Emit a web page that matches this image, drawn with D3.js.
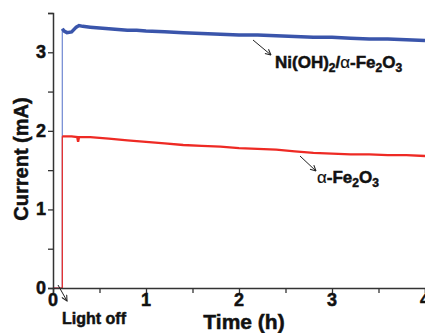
<!DOCTYPE html>
<html>
<head>
<meta charset="utf-8">
<script src="https://cdn.jsdelivr.net/npm/d3@7"></script>
<style>
  body { margin: 0; background: #fff; }
  text { font-family: "Liberation Sans", Arial, sans-serif; font-weight: bold; fill: #111; stroke: #111; stroke-width: 0.5px; }
</style>
</head>
<body>
<script>
// Ni(OH)2/α-Fe2O3 photocurrent (mA) vs time (h)
const niTime    = [0, 0.1, 0.1, 0.12, 0.15, 0.2, 0.25, 0.28, 0.32, 0.4, 0.5, 0.6, 0.7, 0.8, 0.9, 1.0, 1.2, 1.4, 1.6, 1.8, 2.0, 2.2, 2.4, 2.6, 2.8, 3.0, 3.2, 3.4, 3.6, 3.8, 4.0];
const niCurrent = [0, 0, 3.30, 3.27, 3.25, 3.26, 3.32, 3.34, 3.33, 3.32, 3.31, 3.30, 3.29, 3.28, 3.28, 3.27, 3.26, 3.25, 3.24, 3.23, 3.22, 3.22, 3.21, 3.20, 3.19, 3.19, 3.18, 3.17, 3.17, 3.16, 3.15];

// α-Fe2O3 photocurrent
const feTime    = [0, 0.1, 0.1, 0.2, 0.26, 0.27, 0.28, 0.4, 0.6, 0.8, 1.0, 1.2, 1.4, 1.6, 1.8, 2.0, 2.2, 2.4, 2.6, 2.8, 3.0, 3.2, 3.4, 3.6, 3.8, 4.0];
const feCurrent = [0, 0, 1.93, 1.93, 1.92, 1.86, 1.92, 1.92, 1.90, 1.88, 1.86, 1.84, 1.82, 1.81, 1.80, 1.78, 1.77, 1.76, 1.74, 1.72, 1.71, 1.70, 1.70, 1.69, 1.69, 1.68];

const xTicks = [0, 1, 2, 3, 4];
const yTicks = [0, 1, 2, 3];

const width = 425, height = 333;
const svg = d3.select("body").append("svg")
  .attr("width", width)
  .attr("height", height);

const x = d3.scaleLinear().domain([0, 4]).range([53, 425]);
const y = d3.scaleLinear().domain([0, 3.5]).range([288, 13]);

const line = d3.line()
  .x(d => x(d[0]))
  .y(d => y(d[1]));

const ni = d3.zip(niTime, niCurrent);
const fe = d3.zip(feTime, feCurrent);

// switch-on transient (first 3 points) thin, steady trace thick
svg.append("path")
  .datum(ni.slice(0, 3))
  .attr("fill", "none")
  .attr("stroke", "#6f88d2")
  .attr("stroke-width", 1.2)
  .attr("d", line);

svg.append("path")
  .datum(ni.slice(2))
  .attr("fill", "none")
  .attr("stroke", "#3a55ab")
  .attr("stroke-width", 3.5)
  .attr("d", line);

svg.append("path")
  .datum(fe.slice(0, 3))
  .attr("fill", "none")
  .attr("stroke", "#ee2a24")
  .attr("stroke-width", 1.2)
  .attr("d", line);

svg.append("path")
  .datum(fe.slice(2))
  .attr("fill", "none")
  .attr("stroke", "#ee2a24")
  .attr("stroke-width", 2.3)
  .attr("d", line);

// axes
const axisColor = "#333";
const xAxis = svg.append("g")
  .attr("transform", `translate(0,${y(0)})`)
  .call(d3.axisBottom(x).tickValues(d3.range(0, 4.01, 0.5)).tickSize(5).tickFormat(""));
const yAxis = svg.append("g")
  .attr("transform", `translate(${x(0)},0)`)
  .call(d3.axisLeft(y).tickValues(d3.range(0, 3.51, 0.5)).tickSize(5).tickFormat(""));
[xAxis, yAxis].forEach(g => {
  g.select(".domain").attr("stroke", axisColor).attr("stroke-width", 1.5);
  g.selectAll(".tick line").attr("stroke", axisColor).attr("stroke-width", 1.3);
});

svg.selectAll(".xlab")
  .data(xTicks)
  .join("text")
  .attr("x", d => x(d))
  .attr("y", 306)
  .attr("text-anchor", "middle")
  .attr("font-size", 18)
  .text(d => d);

svg.selectAll(".ylab")
  .data(yTicks)
  .join("text")
  .attr("x", 46)
  .attr("y", d => y(d) + 6)
  .attr("text-anchor", "end")
  .attr("font-size", 18)
  .text(d => d);

// axis titles
svg.append("text")
  .attr("transform", "translate(28,159) rotate(-90)")
  .attr("text-anchor", "middle")
  .attr("font-size", 20)
  .text("Current (mA)");

svg.append("text")
  .attr("x", 244)
  .attr("y", 329)
  .attr("text-anchor", "middle")
  .attr("font-size", 21)
  .text("Time (h)");

svg.append("text")
  .attr("x", 62)
  .attr("y", 324)
  .attr("font-size", 16)
  .text("Light off");

// arrows
const defs = svg.append("defs");
defs.append("marker")
  .attr("id", "head")
  .attr("viewBox", "0 0 10 10")
  .attr("refX", 9).attr("refY", 5)
  .attr("markerWidth", 7).attr("markerHeight", 7)
  .attr("orient", "auto")
  .append("path")
  .attr("d", "M1,1 L9,5 L1,9")
  .attr("fill", "none")
  .attr("stroke", "#222")
  .attr("stroke-width", 1.5);

const arrows = [
  [58, 285, 67, 301],
  [253, 40, 271, 55],
  [300, 156, 316, 171]
];
svg.selectAll(".arrow")
  .data(arrows)
  .join("line")
  .attr("x1", d => d[0]).attr("y1", d => d[1])
  .attr("x2", d => d[2]).attr("y2", d => d[3])
  .attr("stroke", "#222")
  .attr("stroke-width", 1)
  .attr("marker-end", "url(#head)");

// series labels
const niLab = svg.append("text").attr("x", 275).attr("y", 68).attr("font-size", 17);
niLab.append("tspan").text("Ni(OH)");
niLab.append("tspan").attr("font-size", 12).attr("dy", 4).text("2");
niLab.append("tspan").attr("dy", -4).text("/");
niLab.append("tspan").attr("font-weight", "normal").attr("stroke-width", 0.2).text("α");
niLab.append("tspan").text("-Fe");
niLab.append("tspan").attr("font-size", 12).attr("dy", 4).text("2");
niLab.append("tspan").attr("dy", -4).text("O");
niLab.append("tspan").attr("font-size", 12).attr("dy", 4).text("3");

const feLab = svg.append("text").attr("x", 317).attr("y", 183).attr("font-size", 17);
feLab.append("tspan").attr("font-weight", "normal").attr("stroke-width", 0.2).text("α");
feLab.append("tspan").text("-Fe");
feLab.append("tspan").attr("font-size", 12).attr("dy", 4).text("2");
feLab.append("tspan").attr("dy", -4).text("O");
feLab.append("tspan").attr("font-size", 12).attr("dy", 4).text("3");
</script>
</body>
</html>
